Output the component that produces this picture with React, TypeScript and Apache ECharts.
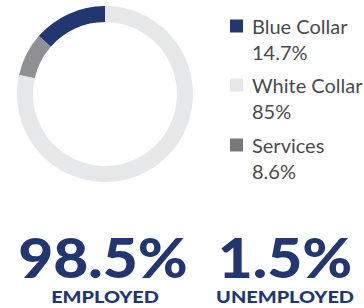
import React, { useEffect, useRef } from 'react';
import * as echarts from 'echarts';

const categories = ['Blue Collar', 'White Collar', 'Services'];
const shares = [14.7, 85, 8.6];
const sliceColors = ['#243670', '#e6e7e8', '#8e9093'];
const legendColors = ['#243670', '#e6e7e8', '#77787b'];
const ringOrder = ['Blue Collar', 'Services', 'White Collar'];
const statValues = ['98.5%', '1.5%'];
const statLabels = ['EMPLOYED', 'UNEMPLOYED'];

const NAVY = '#243670';
const FONT = 'Lato';
const TEXT = '#4a4a4c';

export default function App() {
  const ref = useRef<HTMLDivElement>(null);
  useEffect(() => {
    if (!ref.current) return;
    const chart = echarts.init(ref.current, undefined, { renderer: 'svg' });
    const pieData = ringOrder.map((n) => {
      const i = categories.indexOf(n);
      return { name: n, value: shares[i], itemStyle: { color: sliceColors[i] } };
    });
    const statX = [103, 285];
    const labelX = [105, 285];
    const graphic: any[] = [];
    statValues.forEach((v, i) => {
      graphic.push({
        type: 'text',
        x: statX[i],
        y: 256,
        scaleX: 1.08,
        style: {
          text: v,
          fill: NAVY,
          font: `900 56px ${FONT}`,
          textAlign: 'center',
          textVerticalAlign: 'middle',
        },
      });
      graphic.push({
        type: 'text',
        x: labelX[i],
        y: 297,
        scaleX: 1.17,
        style: {
          text: statLabels[i],
          fill: NAVY,
          font: `900 17px ${FONT}`,
          textAlign: 'center',
          textVerticalAlign: 'middle',
        },
      });
    });
    const legendTops = [-10, 49, 109];
    const legends = categories.map((n, i) => ({
      orient: 'vertical',
      left: 230,
      top: legendTops[i],
      padding: 0,
      itemWidth: 13,
      itemHeight: 13,
      icon: 'rect',
      selectedMode: false,
      data: [{ name: n, itemStyle: { color: legendColors[i] } }],
      formatter: (name: string) => {
        const k = categories.indexOf(name);
        return `{e| }\n{n|${name}}\n{v|${shares[k]}%}`;
      },
      textStyle: {
        rich: {
          e: { fontFamily: FONT, fontSize: 20, lineHeight: 26, color: TEXT },
          n: { fontFamily: FONT, fontSize: 20, lineHeight: 26, color: TEXT, padding: [0, 0, 0, 4] },
          v: { fontFamily: FONT, fontSize: 20, lineHeight: 26, color: TEXT, padding: [0, 0, 0, 4] },
        },
      },
    }));
    chart.setOption({
      animation: false,
      legend: legends,
      series: [
        {
          type: 'pie',
          center: [105, 94],
          radius: [72, 88],
          startAngle: 90,
          clockwise: false,
          label: { show: false },
          labelLine: { show: false },
          emphasis: { disabled: true },
          data: pieData,
        },
      ],
      graphic,
    });
    return () => chart.dispose();
  }, []);
  return (
    <div
      ref={ref}
      style={{ position: 'fixed', left: 0, top: 0, width: 364, height: 308, background: '#fff' }}
    />
  );
}
